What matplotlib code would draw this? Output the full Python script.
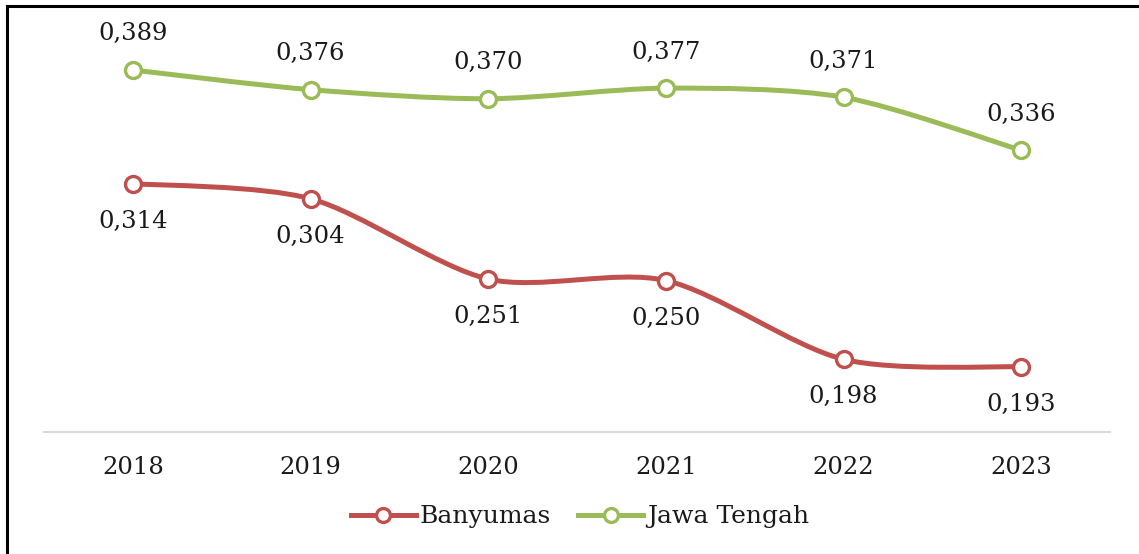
import numpy as np
import matplotlib.pyplot as plt
from matplotlib.path import Path
from matplotlib.patches import PathPatch
from matplotlib.lines import Line2D

years = ["2018", "2019", "2020", "2021", "2022", "2023"]
banyumas = [0.314, 0.304, 0.251, 0.250, 0.198, 0.193]
jateng = [0.389, 0.376, 0.370, 0.377, 0.371, 0.336]

red = "#C0504D"
green = "#9BBB59"

plt.rcParams['font.family'] = ['DejaVu Serif']


def smooth_path(x, y, k=7.0):
    # bezier through the points, like office "smoothed line"
    pts = np.column_stack([x, y]).astype(float)
    n = len(pts)
    verts = [pts[0]]
    codes = [Path.MOVETO]
    for i in range(n - 1):
        p0 = pts[i - 1] if i > 0 else pts[i]
        p1 = pts[i]
        p2 = pts[i + 1]
        p3 = pts[i + 2] if i + 2 < n else pts[i + 1]
        c1 = p1 + (p2 - p0) / k
        c2 = p2 - (p3 - p1) / k
        verts += [c1, c2, p2]
        codes += [Path.CURVE4] * 3
    return Path(verts, codes)


fig = plt.figure(figsize=(11.39, 5.54), dpi=100)
W, H = 1139, 554
ax = fig.add_axes([44 / W, 1 - 432 / H, (1110 - 44) / W, (432 - 20) / H])
ax.set_xlim(-0.5, 5.5)
ax.set_ylim(0.15, 0.422)

fs = 17.5
txt = "#1a1a1a"

x = np.arange(len(years))
for vals, col in [(banyumas, red), (jateng, green)]:
    ax.add_patch(PathPatch(smooth_path(x, vals), facecolor="none", edgecolor=col,
                           lw=3.6, capstyle="round", zorder=2))
    ax.plot(x, vals, linestyle="none", marker="o", ms=11.5, mfc="white",
            mec=col, mew=2.4, zorder=3)

for i in range(len(years)):
    ax.annotate(f"{jateng[i]:.3f}".replace(".", ","), (x[i], jateng[i]),
                xytext=(0, 26), textcoords="offset points", ha="center",
                va="center", fontsize=fs, color=txt)
    ax.annotate(f"{banyumas[i]:.3f}".replace(".", ","), (x[i], banyumas[i]),
                xytext=(0, -27), textcoords="offset points", ha="center",
                va="center", fontsize=fs, color=txt)

for s in ["left", "right", "top"]:
    ax.spines[s].set_visible(False)
ax.spines["bottom"].set_color("#D9D9D9")
ax.spines["bottom"].set_linewidth(1.5)
ax.set_yticks([])
ax.set_xticks(x)
ax.set_xticklabels(years, fontsize=fs, color=txt)
ax.tick_params(axis="x", length=0, pad=17)

handles = [Line2D([], [], color=red, lw=3.6, marker="o", ms=10, mfc="white", mec=red, mew=2.4),
           Line2D([], [], color=green, lw=3.6, marker="o", ms=10, mfc="white", mec=green, mew=2.4)]
fig.legend(handles, ["Banyumas", "Jawa Tengah"], loc="center", bbox_to_anchor=(0.509, 1 - 517 / H),
           ncol=2, frameon=False, fontsize=18, handlelength=2.6, handletextpad=0.15,
           columnspacing=1.1, labelcolor=txt)

# outer frame
fig.add_artist(Line2D([7 / W, 7 / W], [0, 1 - 6 / H], color="black", lw=2.2))
fig.add_artist(Line2D([7 / W, 1], [1 - 6 / H, 1 - 6 / H], color="black", lw=2.2))

fig.savefig("out.png", dpi=100)
